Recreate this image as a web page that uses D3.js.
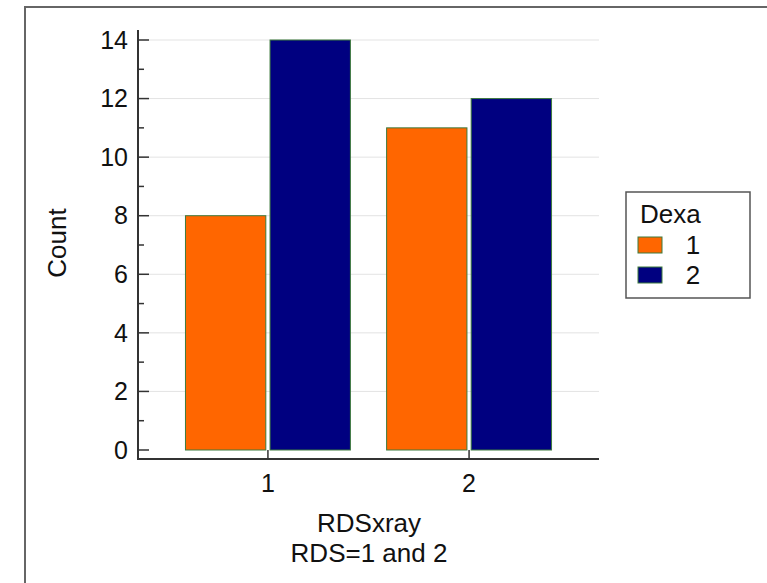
<!DOCTYPE html>
<html>
<head>
<meta charset="utf-8">
<script src="https://cdn.jsdelivr.net/npm/d3@7"></script>
<style>
  body { margin: 0; background: #fff; }
  text { font-family: "Liberation Sans", Arial, sans-serif; fill: #111; }
</style>
</head>
<body>
<div id="chart"></div>
<script>
// data
var categories = ['1', '2']          // RDSxray
var groups = ['1', '2']              // Dexa
var counts1 = [8, 11]                // Dexa = 1
var counts2 = [14, 12]               // Dexa = 2
var yTicks = [0, 2, 4, 6, 8, 10, 12, 14]
var colors = ['#ff6600', '#000080']

var width = 767, height = 583
var fs = '25px', fsTitle = '26px'

var svg = d3.select('#chart').append('svg')
    .attr('width', width)
    .attr('height', height)

// outer frame
svg.append('rect')
    .attr('x', 25).attr('y', 7)
    .attr('width', 760).attr('height', 600)
    .attr('fill', 'none')
    .attr('stroke', '#666')
    .attr('stroke-width', 2)

var plot = {left: 138, right: 599, top: 30, zero: 450, axisY: 459}

var y = d3.scaleLinear()
    .domain([0, 14])
    .range([plot.zero, 40])

var x0 = d3.scaleBand()
    .domain(categories)
    .range([plot.left, plot.right])
    .paddingInner(0.18)
    .paddingOuter(0.236)

var x1 = d3.scaleBand()
    .domain(groups)
    .range([0, x0.bandwidth()])
    .paddingInner(0.05)

// gridlines
svg.append('g')
    .selectAll('line')
    .data(yTicks.filter(function(d){ return d > 0 }))
    .enter()
    .append('line')
    .attr('x1', plot.left)
    .attr('x2', plot.right)
    .attr('y1', function(d){ return y(d) })
    .attr('y2', function(d){ return y(d) })
    .attr('stroke', '#e3e3e3')
    .attr('stroke-width', 1)

// bars
var rows = categories.map(function(c, i){
    return [{cat: c, grp: groups[0], v: counts1[i]}, {cat: c, grp: groups[1], v: counts2[i]}]
})

svg.append('g')
    .selectAll('g')
    .data(rows)
    .enter()
    .append('g')
    .attr('transform', function(d){ return 'translate(' + x0(d[0].cat) + ',0)' })
    .selectAll('rect')
    .data(function(d){ return d })
    .enter()
    .append('rect')
    .attr('x', function(d){ return x1(d.grp) })
    .attr('width', x1.bandwidth())
    .attr('y', function(d){ return y(d.v) })
    .attr('height', function(d){ return y(0) - y(d.v) })
    .attr('fill', function(d){ return colors[groups.indexOf(d.grp)] })
    .attr('stroke', '#3d7a3d')
    .attr('stroke-width', 1)

// y axis
var yAxis = svg.append('g')
yAxis.append('line')
    .attr('x1', plot.left).attr('x2', plot.left)
    .attr('y1', plot.top).attr('y2', plot.axisY)
    .attr('stroke', '#333').attr('stroke-width', 2)

var minor = d3.range(1, 14, 2)
yAxis.selectAll('.minor')
    .data(minor)
    .enter()
    .append('line')
    .attr('x1', plot.left).attr('x2', plot.left + 6)
    .attr('y1', function(d){ return y(d) })
    .attr('y2', function(d){ return y(d) })
    .attr('stroke', '#333').attr('stroke-width', 1.5)

yAxis.selectAll('.major')
    .data(yTicks)
    .enter()
    .append('line')
    .attr('x1', plot.left).attr('x2', plot.left + 11)
    .attr('y1', function(d){ return y(d) })
    .attr('y2', function(d){ return y(d) })
    .attr('stroke', '#333').attr('stroke-width', 1.5)

yAxis.selectAll('text')
    .data(yTicks)
    .enter()
    .append('text')
    .attr('x', plot.left - 10)
    .attr('y', function(d){ return y(d) })
    .attr('dy', '0.35em')
    .attr('text-anchor', 'end')
    .style('font-size', fs)
    .text(function(d){ return d })

// x axis
var xAxis = svg.append('g')
xAxis.append('line')
    .attr('x1', plot.left - 1).attr('x2', plot.right)
    .attr('y1', plot.axisY).attr('y2', plot.axisY)
    .attr('stroke', '#333').attr('stroke-width', 2)

xAxis.selectAll('.tick')
    .data(categories)
    .enter()
    .append('line')
    .attr('x1', function(d){ return x0(d) + x0.bandwidth() / 2 })
    .attr('x2', function(d){ return x0(d) + x0.bandwidth() / 2 })
    .attr('y1', plot.axisY).attr('y2', plot.axisY - 9)
    .attr('stroke', '#333').attr('stroke-width', 1.5)

xAxis.selectAll('text')
    .data(categories)
    .enter()
    .append('text')
    .attr('x', function(d){ return x0(d) + x0.bandwidth() / 2 })
    .attr('y', 492)
    .attr('text-anchor', 'middle')
    .style('font-size', fs)
    .text(function(d){ return d })

// axis titles
svg.append('text')
    .attr('x', 369).attr('y', 532)
    .attr('text-anchor', 'middle')
    .style('font-size', fsTitle)
    .text('RDSxray')

svg.append('text')
    .attr('x', 369).attr('y', 562)
    .attr('text-anchor', 'middle')
    .style('font-size', fsTitle)
    .text('RDS=1 and 2')

svg.append('text')
    .attr('transform', 'translate(66,243) rotate(-90)')
    .attr('text-anchor', 'middle')
    .style('font-size', fsTitle)
    .text('Count')

// legend
var legend = svg.append('g').attr('transform', 'translate(626,192)')
legend.append('rect')
    .attr('width', 124).attr('height', 106)
    .attr('fill', '#fff')
    .attr('stroke', '#555').attr('stroke-width', 1.5)
legend.append('text')
    .attr('x', 14).attr('y', 31)
    .style('font-size', fsTitle)
    .text('Dexa')

var items = legend.selectAll('.item')
    .data(groups)
    .enter()
    .append('g')
    .attr('transform', function(d, i){ return 'translate(12,' + (45 + i * 30) + ')' })
items.append('rect')
    .attr('width', 24).attr('height', 16)
    .attr('fill', function(d, i){ return colors[i] })
    .attr('stroke', '#3d7a3d').attr('stroke-width', 1)
items.append('text')
    .attr('x', 55).attr('y', 17)
    .attr('text-anchor', 'middle')
    .style('font-size', fsTitle)
    .text(function(d){ return d })
</script>
</body>
</html>
